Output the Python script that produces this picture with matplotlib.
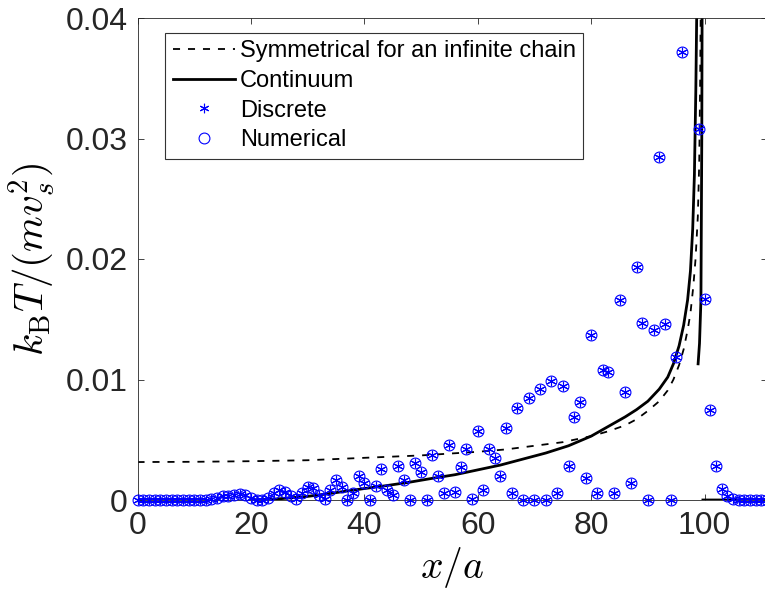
import numpy as np
import matplotlib
matplotlib.use("Agg")
import matplotlib.pyplot as plt

plt.rcParams['font.family'] = ['Liberation Sans', 'DejaVu Sans']
plt.rcParams['mathtext.fontset'] = 'cm'

# ---------------- data ----------------
site = np.arange(0, 112)
temp_sites = [
    0, 0, 0, 0, 0, 0, 0, 0, 0, 0,                                  # 0-9
    0, 0, 0, 0.0001, 0.0002, 0.0003, 0.0003, 0.0004, 0.0005, 0.0004,  # 10-19
    0.0002, 0.0, 0.0, 0.0002, 0.0006, 0.0008, 0.0007, 0.0003, 0.0001, 0.0006,  # 20-29
    0.0011, 0.0010, 0.0004, 0.0001, 0.0008, 0.0017, 0.0011, 0.0, 0.0006, 0.0020,  # 30-39
    0.0014, 0.0, 0.0012, 0.0026, 0.0008, 0.0004, 0.0028, 0.0017, 0.0, 0.0031,  # 40-49
    0.0023, 0.0, 0.0037, 0.0020, 0.0006, 0.0046, 0.0007, 0.0027, 0.0042, 0.0001,  # 50-59
    0.0057, 0.0008, 0.0042, 0.0035, 0.0020, 0.0060, 0.0006, 0.0076, 0.0, 0.0085,  # 60-69
    0.0, 0.0092, 0.0, 0.0099, 0.0006, 0.0095, 0.0028, 0.0069, 0.0081, 0.0018,  # 70-79
    0.0137, 0.0006, 0.0108, 0.0106, 0.0006, 0.0166, 0.0090, 0.0014, 0.0193, 0.0147,  # 80-89
    0.0, 0.0141, 0.0285, 0.0146, 0.0, 0.0119, 0.0372, 0.050, 0.045, 0.0308,  # 90-99
    0.0167, 0.0075, 0.0028, 0.0009, 0.0003, 0.0001, 0, 0, 0, 0,      # 100-109
    0, 0,                                                            # 110-111
]

sym_x = [0, 10, 20, 30, 40, 50, 60, 65, 70, 75, 80, 83, 86, 88, 90, 92, 93.5,
         94.5, 95.5, 96.3, 97, 97.5, 98, 98.4, 98.8, 99.05, 99.2, 99.3, 99.4]
sym_T = [0.00315, 0.00317, 0.00322, 0.0033, 0.0035, 0.0037, 0.0040, 0.0042,
         0.0045, 0.0048, 0.0053, 0.0057, 0.0062, 0.0067, 0.0074, 0.0082,
         0.0091, 0.0100, 0.0112, 0.0125, 0.0141, 0.0155, 0.0177, 0.0200,
         0.0235, 0.0280, 0.0340, 0.0400, 0.0480]

cont_left_x = [20, 22, 25, 28, 30, 33, 36, 40, 44, 48, 52, 56, 60, 64, 68, 72,
               76, 80, 83, 86, 88, 90, 92, 93.5, 94.5, 95.5, 96.3, 97, 97.5,
               97.9, 98.2, 98.45, 98.65, 98.75]
cont_left_T = [0, 0.00003, 0.0001, 0.00022, 0.0003, 0.00048, 0.00068, 0.00095,
               0.0012, 0.00148, 0.0018, 0.0021, 0.0025, 0.0029, 0.0034, 0.0039,
               0.0045, 0.0053, 0.0061, 0.0069, 0.0075, 0.0082, 0.0092, 0.0102,
               0.0113, 0.0128, 0.0145, 0.0166, 0.0190, 0.0225, 0.0270, 0.0340,
               0.0420, 0.0480]
cont_right_x = [99.6, 99.5, 99.35, 99.1, 98.85]
cont_right_T = [0.048, 0.030, 0.0166, 0.013, 0.0113]
cont_zero_x = [99.7, 112]
cont_zero_T = [0, 0]

xticks = [0, 20, 40, 60, 80, 100]
yticks = [0, 0.01, 0.02, 0.03, 0.04]
ytick_labels = ['0', '0.01', '0.02', '0.03', '0.04']
XLIM = (0, 111)
YLIM = (0, 0.04)

# ---------------- figure ----------------
W, H = 765, 591
fig = plt.figure(figsize=(W / 100, H / 100), dpi=100)
L, R, T, B = 137.5, 767, 18, 500
ax = fig.add_axes([L / W, 1 - B / H, (R - L) / W, (B - T) / H])

axcol = '0.15'
ax.plot(sym_x, sym_T, color='k', lw=1.3, ls=(0, (3.9, 4.4)),
        label='Symmetrical for an infinite chain')
cx = cont_left_x + [np.nan] + cont_right_x + [np.nan] + cont_zero_x
cT = cont_left_T + [np.nan] + cont_right_T + [np.nan] + cont_zero_T
ax.plot(cx, cT, color='k', lw=2.0, label='Continuum')

tarr = np.array(temp_sites, dtype=float)
inside = (tarr >= YLIM[0]) & (tarr <= YLIM[1])
ax.plot(site[inside], tarr[inside], ls='none', marker=(6, 2, 0), ms=6.8,
        mec='#0000ff', mew=0.8, color='#0000ff', label='Discrete', clip_on=False,
        zorder=3)
ax.plot(site[inside], tarr[inside], ls='none', marker='o', ms=7.8,
        mfc='none', mec='#0000ff', mew=0.8, label='Numerical', clip_on=False,
        zorder=3)

ax.set_xlim(*XLIM)
ax.set_ylim(*YLIM)
ax.set_xticks(xticks)
ax.set_yticks(yticks)
ax.set_yticklabels(ytick_labels)
ax.tick_params(direction='in', length=4.3, width=0.6, top=True, right=True,
               labelsize=23, colors=axcol, pad=7)
ax.tick_params(axis='x', pad=8)
for sp in ax.spines.values():
    sp.set_color(axcol)
    sp.set_linewidth(0.6)

ax.set_xlabel(r'$x/a$', fontsize=28.5, color='k', labelpad=3)
ax.set_ylabel(r'$k_{\mathrm{B}}T/(mv_s^2)$', fontsize=29.5, color='k', labelpad=6)

leg = ax.legend(loc='upper left', bbox_to_anchor=(0.0437, 0.969),
                borderaxespad=0, fontsize=17.0, frameon=True, fancybox=False,
                framealpha=1, edgecolor='0.2', handlelength=2.65,
                handletextpad=0.2, labelspacing=0.32, borderpad=0.32,
                numpoints=1)
leg.get_frame().set_linewidth(0.8)

fig.savefig('out.png', dpi=100)
